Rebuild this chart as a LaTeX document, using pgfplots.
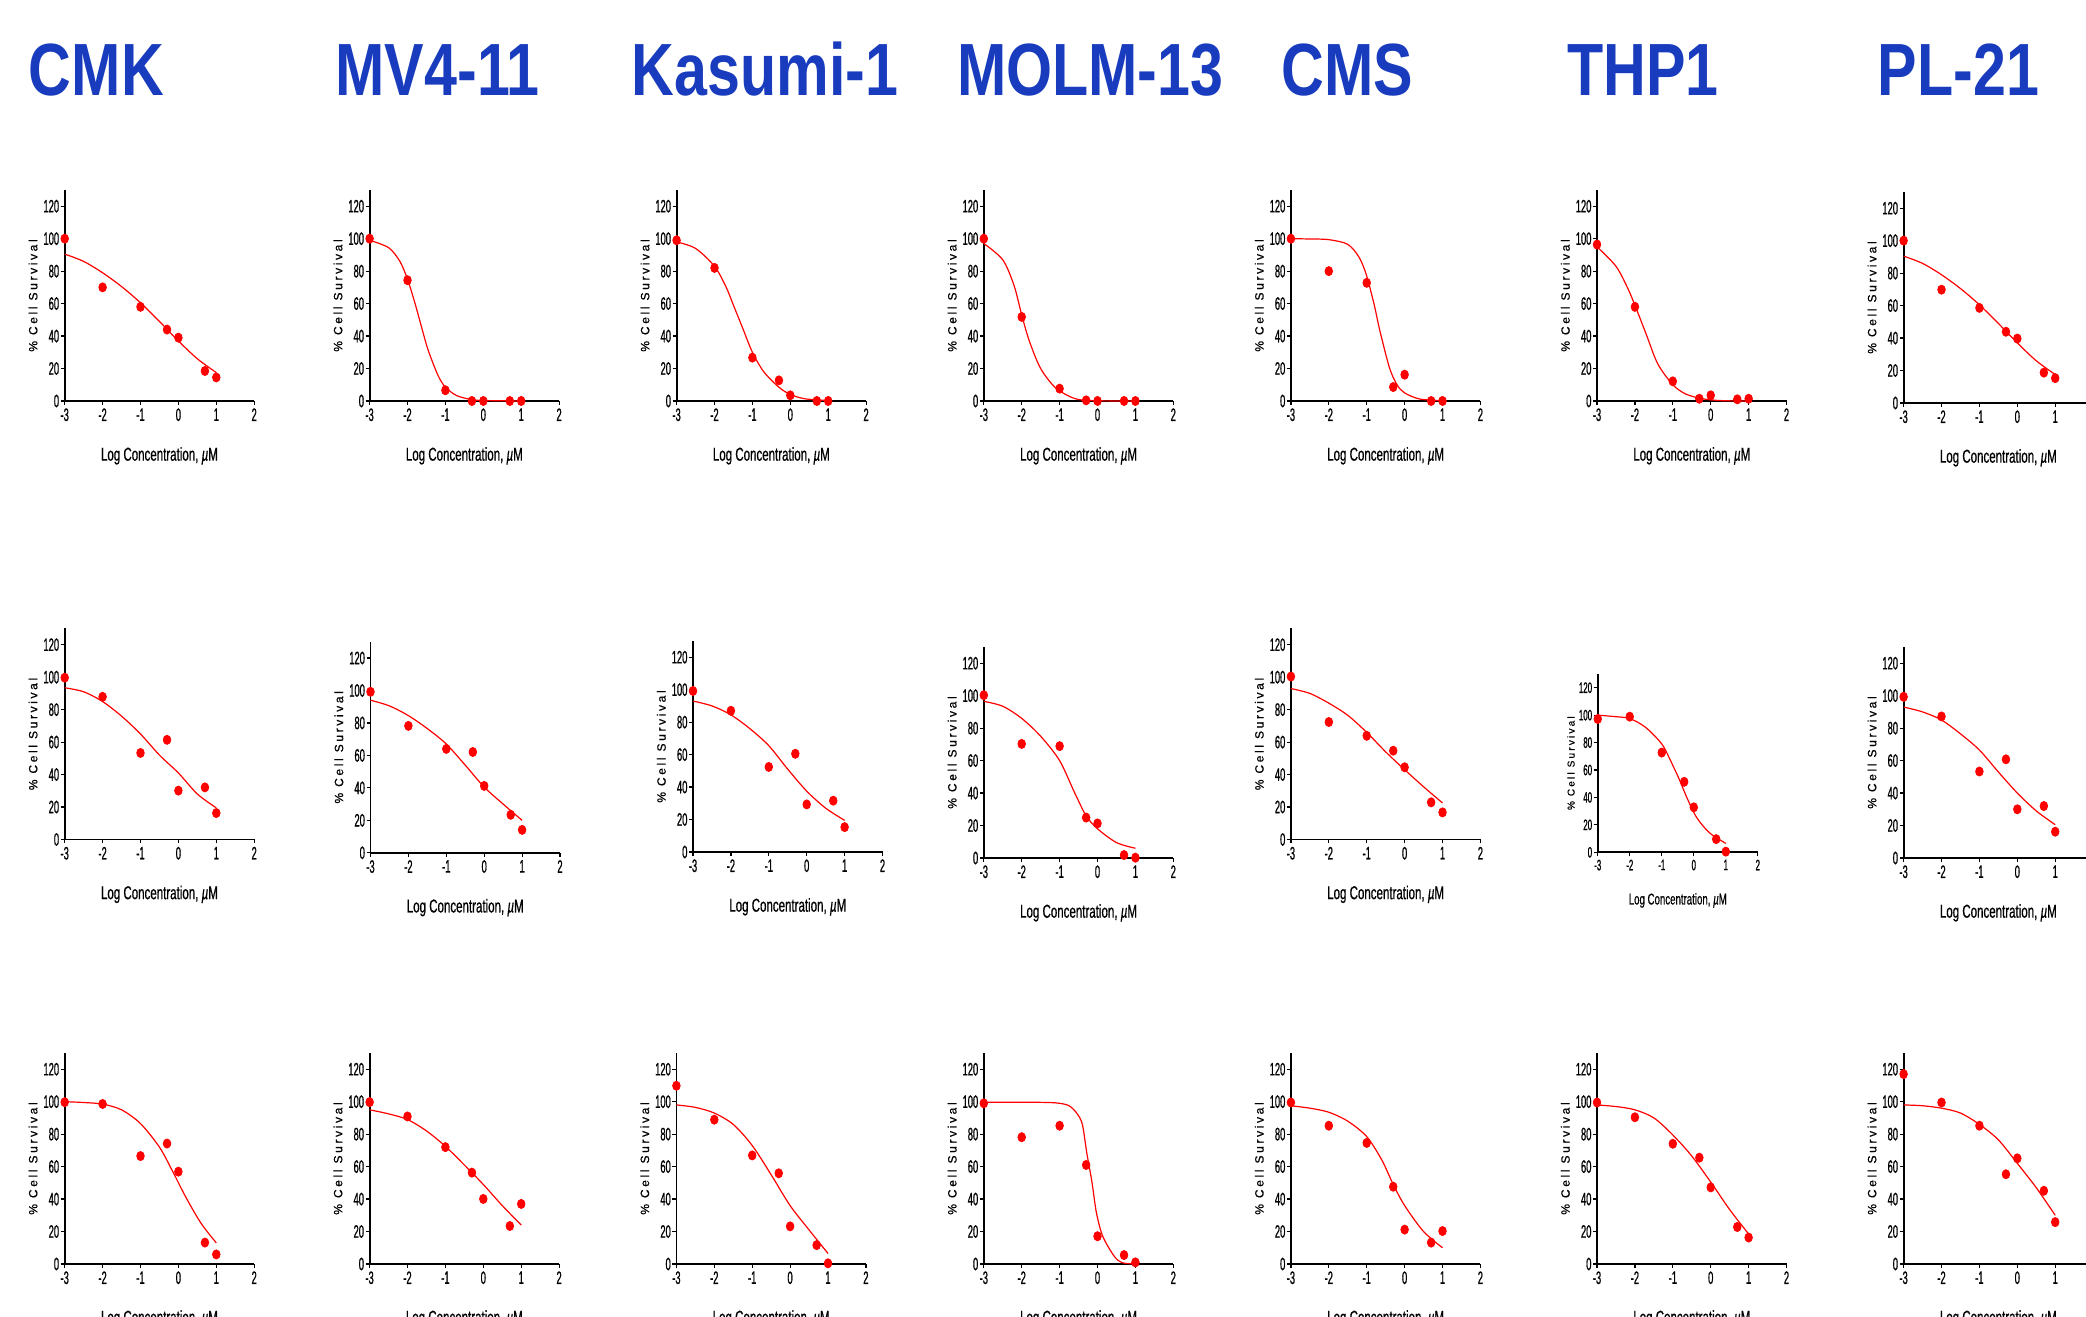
\documentclass[border=0pt]{standalone}
\usepackage{pgfplots}
\pgfplotsset{compat=1.18}
\usepackage{fontspec}
\setmainfont{Liberation Sans}
\newfontfamily\ticknarrow[FakeStretch=0.52, FakeBold=0.8]{Liberation Sans}
\newfontfamily\labnarrow[FakeStretch=0.62, FakeBold=0.6]{Liberation Sans}
\newfontfamily\ylabfont[LetterSpace=22, FakeBold=0.8]{Liberation Sans}
\newfontfamily\titlefont[FakeStretch=0.8]{Liberation Sans Bold}
\definecolor{titleblue}{RGB}{25,60,190}

\pgfplotsset{
  cellax/.style={
    scale only axis, anchor=south west,
    xmin=-3, xmax=2, ymin=0, ymax=130,
    axis lines=left, axis line style={-, line width=0.9pt, black},
    xtick={-3,-2,-1,0,1,2}, xticklabels={-3,-2,-1,0,1,2},
    ytick={0,20,40,60,80,100,120}, yticklabels={0,20,40,60,80,100,120},
    tick align=outside, major tick length=2pt,
    every tick/.style={black, line width=0.6pt},
    tick label style={font=\ticknarrow\fontsize{9}{10}\selectfont},
    yticklabel style={inner sep=0.6pt},
    xticklabel style={inner sep=1.5pt},
    xlabel={Log Concentration,\ \textit{µ}M}, ylabel={\% Cell Survival},
    x label style={at={(axis description cs:0.5,-0.26)}, anchor=center, font=\labnarrow\fontsize{9.3}{10}\selectfont},
    y label style={at={(axis description cs:-0.167,0.5)}, anchor=center, font=\ylabfont\fontsize{6}{7}\selectfont},
    clip=false,
  },
  smallfonts/.style={
    tick label style={font=\ticknarrow\fontsize{7.6}{8}\selectfont},
    x label style={at={(axis description cs:0.5,-0.27)}, font=\labnarrow\fontsize{7.8}{8}\selectfont},
    y label style={font=\ylabfont\fontsize{5}{6}\selectfont},
  },
  curve/.style={red, line width=0.6pt, smooth, no marks},
  pts/.style={only marks, mark=*, mark size=1.9pt, red, mark options={yscale=1.2, fill=red, draw=red}},
}

\newcommand\cplot[6][]{%
  \begin{axis}[cellax, at={({#2*0.5pt},{(1316-#3)*0.5pt})}, width={#4*94.75pt}, height={#4*105.5pt}, #1]
    \addplot[curve] coordinates {#6};
    \addplot[pts] coordinates {#5};
  \end{axis}}

\begin{document}
\begin{tikzpicture}
\path[use as bounding box] (0,0) rectangle (1043pt,658pt);

% titles
\foreach \cx/\t in {48.2/CMK, 218.8/MV4-11, 382.5/Kasumi-1, 545.1/MOLM-13, 673.8/CMS, 821.5/THP1, 979.2/PL-21}{
  \node[anchor=base, inner sep=0pt, text=titleblue, font=\titlefont\fontsize{37}{40}\selectfont] at (\cx pt,610.1pt) {\t};
}

% ---------------- row 1 ----------------
\cplot{64.7}{401}{1}{(-3,100) (-2,70) (-1,58) (-0.3,44) (0,39) (0.7,18.5) (1,14.5)}{(-3,90.5) (-2.5,86) (-2,79) (-1.5,70.5) (-1,60.5) (-0.5,49) (0,37) (0.5,26) (1,17.5)}
\cplot{369.6}{401}{1}{(-3,100) (-2,74.4) (-1,6.6) (-0.3,0) (0,0) (0.7,0) (1,0)}{(-3,99) (-2.5,94.5) (-2.2,86) (-2,75) (-1.8,60) (-1.6,43) (-1.45,31) (-1.2,16) (-1,8.5) (-0.7,3.3) (-0.3,0.8) (0,0.3) (1,0)}
\cplot{676.6}{401}{1}{(-3,99) (-2,82) (-1,26.7) (-0.3,12.7) (0,3.5) (0.7,0) (1,0)}{(-3,98) (-2.5,94) (-2,83) (-1.7,70.5) (-1.5,59) (-1.25,44.5) (-1,30) (-0.7,18) (-0.3,8.5) (0,4) (0.4,1.3) (1,0.3)}
\cplot{983.8}{401}{1}{(-3,100) (-2,51.8) (-1,7.6) (-0.3,0.4) (0,0) (0.7,0) (1,0)}{(-3,97) (-2.5,87) (-2.2,71) (-2,53) (-1.8,37) (-1.5,20) (-1.1,8) (-0.6,1.5) (-0.1,0.2) (1,0)}
\cplot{1290.9}{401}{1}{(-3,100) (-2,80) (-1,72.8) (-0.3,8.6) (0,16.2) (0.7,0) (1,0)}{(-3,100) (-2.5,99.8) (-2,99.4) (-1.5,96.5) (-1.2,88.5) (-1,77) (-0.8,59) (-0.65,43) (-0.4,20.5) (-0.2,10) (0,5) (0.4,1.2) (1,0.2)}
\cplot{1597}{401}{1}{(-3,96.4) (-2,58) (-1,12.1) (-0.3,1.4) (0,3.5) (0.7,1) (1,1.4)}{(-3,95) (-2.5,83) (-2.2,70) (-2,59) (-1.7,41) (-1.4,23) (-1,10) (-0.65,4.2) (-0.2,1.3) (0.3,0.2) (1,0)}
\cplot{1903.6}{403}{1}{(-3,100) (-2,69.8) (-1,58.6) (-0.3,43.9) (0,39.7) (0.7,18.7) (1,15.3)}{(-3,90.5) (-2.5,86) (-2,79) (-1.5,70.5) (-1,60.5) (-0.5,49) (0,37) (0.5,26) (1,17.5)}

% ---------------- row 2 ----------------
\cplot{64.7}{839.5}{1}{(-3,99.7) (-2,87.9) (-1,53.3) (-0.3,61.4) (0,30.1) (0.7,32.1) (1,16.3)}{(-3,93.5) (-2.5,91) (-2,85) (-1.5,76) (-1,65) (-0.5,52) (0,41) (0.5,28) (1,19.5)}
\cplot{370.5}{852.8}{1}{(-3,99.2) (-2,78.2) (-1,64) (-0.3,62.1) (0,41.2) (0.7,23.4) (1,14.1)}{(-3,94) (-2.5,90.5) (-2,84.5) (-1.5,76.5) (-1,67) (-0.5,54) (0,40.5) (0.5,30) (1,20)}
\cplot{693}{852}{1}{(-3,99.2) (-2,87) (-1,52.4) (-0.3,60.5) (0,29.3) (0.7,31.6) (1,15.3)}{(-3,93) (-2.5,90) (-2,84.5) (-1.5,76) (-1,65.5) (-0.5,51) (0,37.5) (0.5,27) (1,19.5)}
\cplot{983.8}{858}{1}{(-3,100.3) (-2,70.3) (-1,68.9) (-0.3,24.9) (0,21.3) (0.7,1.8) (1,0.2)}{(-3,96.5) (-2.5,93.5) (-2,86) (-1.5,75) (-1,60) (-0.6,40) (-0.3,26) (0,18) (0.5,9.5) (1,6)}
\cplot{1290.9}{839.5}{1}{(-3,100.4) (-2,72.4) (-1,63.9) (-0.3,54.7) (0,44.5) (0.7,22.9) (1,16.7)}{(-3,93) (-2.5,90) (-2,84) (-1.5,76.5) (-1,66) (-0.5,54) (0,43) (0.5,32.5) (1,22.5)}
\cplot[smallfonts]{1597.7}{852.3}{0.845}{(-3,97.2) (-2,98.9) (-1,72.7) (-0.3,51.4) (0,32.8) (0.7,9.6) (1,0.5)}{(-3,100) (-2.5,99) (-2,97.5) (-1.5,91) (-1,79) (-0.75,68) (-0.45,53) (-0.2,39) (0.1,25) (0.5,14) (1,6.5)}
\cplot{1903.6}{858}{1}{(-3,99.3) (-2,87.2) (-1,53.3) (-0.3,60.8) (0,30) (0.7,32) (1,16.2)}{(-3,93) (-2.5,90) (-2,85) (-1.5,76.5) (-1,66.5) (-0.5,53) (0,40) (0.5,29) (1,20.5)}

% ---------------- row 3 ----------------
\cplot{64.7}{1264}{1}{(-3,99.7) (-2,98.6) (-1,66.5) (-0.3,74.2) (0,56.9) (0.7,13.2) (1,5.9)}{(-3,100) (-2.5,99.5) (-2,98.5) (-1.5,95) (-1,86.5) (-0.5,72) (-0.15,57) (0.2,41) (0.6,25) (1,13)}
\cplot{369.6}{1264}{1}{(-3,99.7) (-2,90.9) (-1,72) (-0.3,56.3) (0,40.1) (0.7,23.4) (1,37)}{(-3,95) (-2.5,92.5) (-2,89) (-1.5,82) (-1,72.5) (-0.5,61) (0,49) (0.5,36) (1,24)}
\cplot{676.4}{1264}{1}{(-3,109.8) (-2,88.9) (-1,66.9) (-0.3,55.9) (0,23.2) (0.7,11.6) (1,0.4)}{(-3,98) (-2.5,96.5) (-2,93) (-1.5,86) (-1,73) (-0.5,55) (0,36) (0.5,21) (1,6.5)}
\cplot{983.8}{1264}{1}{(-3,99) (-2,78.1) (-1,85.2) (-0.3,61) (0,17.1) (0.7,5.5) (1,1)}{(-3,99.7) (-2,99.7) (-1.3,99.5) (-1,99) (-0.75,97.5) (-0.55,93) (-0.4,86) (-0.28,68) (-0.15,51) (-0.04,33) (0.08,21) (0.2,14) (0.45,4.5) (0.65,0.8) (1,0)}
\cplot{1290.9}{1264}{1}{(-3,99.5) (-2,85.2) (-1,74.6) (-0.3,47.6) (0,21.2) (0.7,13.2) (1,20.3)}{(-3,97.5) (-2.5,96) (-2,93.5) (-1.5,88) (-1,78.5) (-0.6,64) (-0.3,49) (0,36) (0.5,20) (1,10)}
\cplot{1597}{1264}{1}{(-3,99.5) (-2,90.4) (-1,74.1) (-0.3,65.5) (0,47.2) (0.7,22.8) (1,16.3)}{(-3,98) (-2.5,97) (-2,95) (-1.5,90) (-1,79.5) (-0.5,66.5) (0,50.5) (0.5,33.5) (1,18.5)}
\cplot{1903.6}{1264}{1}{(-3,117) (-2,99.5) (-1,85.2) (-0.3,55.3) (0,65.1) (0.7,45.1) (1,25.8)}{(-3,98) (-2.5,97.5) (-2,96) (-1.5,93) (-1,86) (-0.5,76.5) (0,62) (0.5,47) (1,30)}
\end{tikzpicture}
\end{document}
